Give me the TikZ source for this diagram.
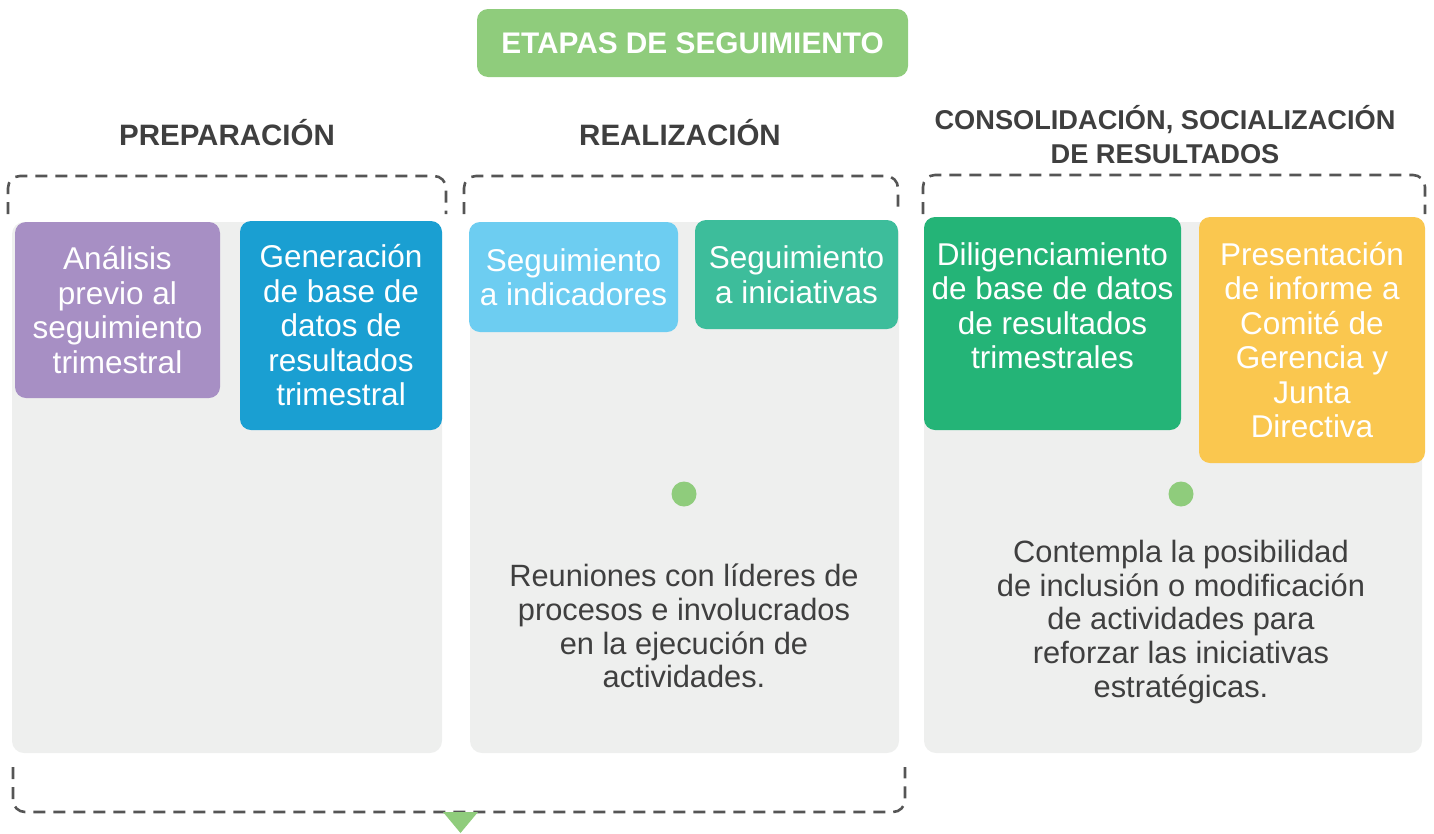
\documentclass[tikz,border=0pt]{standalone}
\usepackage{fontspec}
\setmainfont{Liberation Sans}
\definecolor{titlegreen}{HTML}{8FCC7C}
\definecolor{panelgray}{HTML}{EEEFEE}
\definecolor{dashgray}{HTML}{555555}
\definecolor{txtgray}{HTML}{3F3F3F}
\definecolor{cpurple}{HTML}{A78FC4}
\definecolor{cblue}{HTML}{1A9FD2}
\definecolor{clight}{HTML}{6DCDF1}
\definecolor{cteal}{HTML}{3DBD9B}
\definecolor{cgreen}{HTML}{24B477}
\definecolor{cyellow}{HTML}{FAC74F}
\begin{document}
\begin{tikzpicture}[x=1pt,y=-1pt,
  panel/.style={fill=panelgray,rounded corners=12pt},
  colbox/.style={rounded corners=11pt,text=white,align=center,inner sep=0pt,
    font=\fontsize{31.5}{34.5}\selectfont},
  header/.style={text=txtgray,align=center,font=\bfseries\fontsize{29.5}{34}\selectfont},
  bodytxt/.style={text=txtgray,align=center,font=\fontsize{30.8}{33.8}\selectfont},
  bracket/.style={draw=dashgray,line width=2.6pt,dash pattern=on 12pt off 8pt,rounded corners=12pt},
  gdot/.style={circle,fill=titlegreen,minimum size=25pt,inner sep=0pt}]
\useasboundingbox (0,0) rectangle (1434,833);
% title
\node[fill=titlegreen,rounded corners=11pt,minimum width=431pt,minimum height=68pt,text=white,
  font=\bfseries\fontsize{29.8}{34}\selectfont] (title) at (692.5,43) {ETAPAS DE SEGUIMIENTO};
% headers
\node[header] (h1) at (227,133) {PREPARACIÓN};
\node[header] (h2) at (680,133) {REALIZACIÓN};
\node[header,font=\bfseries\fontsize{27.2}{34}\selectfont] (h3) at (1165,135) {CONSOLIDACIÓN, SOCIALIZACIÓN\\DE RESULTADOS};
% panels
\fill[panel] (12,222) rectangle (442,753);
\fill[panel] (470,222) rectangle (899,753);
\fill[panel] (924,222) rectangle (1422,753);
% brackets
\draw[bracket] (8,214) -- (8,176) -- (446,176) -- (446,214);
\draw[bracket] (464,214) -- (464,176) -- (898,176) -- (898,214);
\draw[bracket] (923,214) -- (923,175) -- (1425,175) -- (1425,214);
\coordinate (bl) at (13,767);
\coordinate (br) at (905,767);
\draw[bracket] (bl) -- (13,812) -- (905,812) -- (br);
\fill[titlegreen] (443,812) -- (478,812) -- (460.5,833) -- cycle;
% colored boxes
\node[colbox,fill=cpurple,minimum width=205pt,minimum height=176pt] (b1) at (117.5,310) {Análisis\\previo al\\seguimiento\\trimestral};
\node[colbox,fill=cblue,minimum width=202pt,minimum height=209pt] (b2) at (341,325.5) {Generación\\de base de\\datos de\\resultados\\trimestral};
\node[colbox,fill=clight,minimum width=209pt,minimum height=110pt] (b3) at (573.5,277) {Seguimiento\\a indicadores};
\node[colbox,fill=cteal,minimum width=203pt,minimum height=109pt] (b4) at (796.5,274.5) {Seguimiento\\a iniciativas};
\node[colbox,fill=cgreen,minimum width=257pt,minimum height=213pt] (b5) at (1052.5,323.5) {};
\node[text=white,align=center,font=\fontsize{31.5}{34.5}\selectfont] (b5t) at (1052.5,305.5) {Diligenciamiento\\de base de datos\\de resultados\\trimestrales};
\node[colbox,fill=cyellow,minimum width=226pt,minimum height=246pt] (b6) at (1312,340) {Presentación\\de informe a\\Comité de\\Gerencia y\\Junta\\Directiva};
% dots
\node[gdot] (d1) at (684,494) {};
\node[gdot] (d2) at (1181,494) {};
% body texts
\node[bodytxt] (t1) at (684,626) {Reuniones con líderes de\\procesos e involucrados\\en la ejecución de\\actividades.};
\node[bodytxt] (t2) at (1181,622) {Contempla la posibilidad\\de inclusión o modificación\\de actividades para\\reforzar las iniciativas\\estratégicas.};
\end{tikzpicture}
\end{document}
